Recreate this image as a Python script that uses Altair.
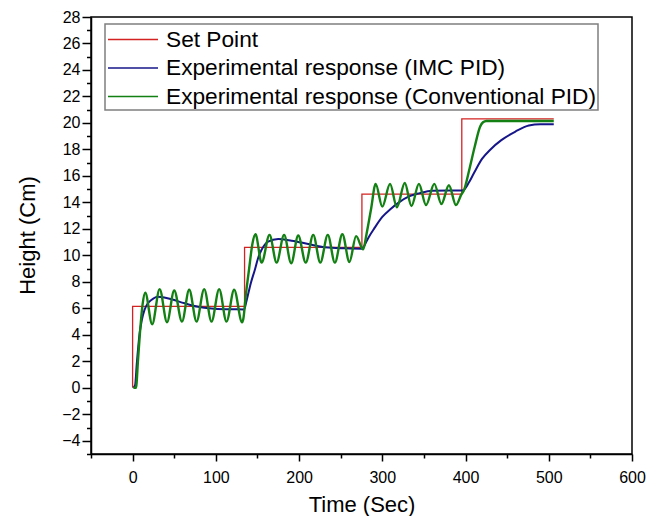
import altair as alt
import pandas as pd

# ---- data ----
series_names = ["Set Point",
                "Experimental response (IMC PID)",
                "Experimental response (Conventional PID)"]
colors = ["#d42222", "#16168a", "#138013"]

sp_t = [0, 0, 134.5, 134.5, 275.5, 275.5, 395.5, 395.5, 506]
sp_h = [0, 6.15, 6.15, 10.61, 10.61, 14.62, 14.62, 20.31, 20.31]

imc_t = [1, 3, 5, 8.4, 11, 14.4, 18, 22.5, 30, 38, 46.6, 62.6, 78.6, 94.7, 110, 134,
         137, 142, 146.8, 150.8, 154.8, 162.8, 174.9, 191, 211, 231, 255, 275,
         277, 283, 290, 300, 310, 320, 332, 345, 360, 380, 396,
         398, 404, 410, 420, 430, 443, 460, 476, 490, 506]
imc_h = [0, 0.2, 1.8, 4.1, 5.1, 5.9, 6.35, 6.63, 6.88, 6.82, 6.68, 6.38, 6.12, 5.98, 5.93, 5.92,
         6.6, 7.9, 8.9, 9.8, 10.4, 11.04, 11.24, 11.11, 10.86, 10.61, 10.53, 10.5,
         10.6, 11.3, 12.0, 12.9, 13.5, 14.0, 14.45, 14.7, 14.88, 14.9, 14.9,
         14.95, 15.5, 16.2, 17.3, 18.0, 18.7, 19.35, 19.8, 19.9, 19.9]

pid_t = [1, 4, 6.5, 9, 12, 15.2, 23.5, 32.5, 41.3, 50, 59.3, 68, 76.8, 86, 94.8, 104, 112.8,
         122, 131.5,
         133, 136, 140, 144, 147.6, 155, 164.5, 173, 182, 190.5, 199, 208, 217, 225.5,
         234.5, 243, 252, 260.5, 268.5, 277,
         281, 286.5, 292, 300, 309.3, 317.5, 327, 335, 344, 352.5, 362.5, 371, 380, 388.5,
         395, 398, 405, 411, 417.6, 421, 425, 506]
pid_h = [0, 0, 2.1, 4.3, 6.3, 7.18, 4.8, 7.45, 4.95, 7.35, 5.0, 7.4, 5.0, 7.45, 5.0, 7.45, 5.0,
         7.4, 4.95,
         5.2, 7.0, 9.0, 10.9, 11.6, 9.45, 11.55, 9.45, 11.55, 9.4, 11.5, 9.45, 11.55, 9.45,
         11.55, 9.45, 11.6, 9.5, 11.45, 10.45,
         11.6, 13.5, 15.4, 13.68, 15.4, 13.63, 15.46, 13.73, 15.4, 13.8, 15.4, 13.88, 15.3, 13.8,
         14.6, 14.9, 16.6, 18.2, 19.73, 20.05, 20.15, 20.15]

x_ticks = list(range(-50, 601, 50))
y_ticks = list(range(-5, 29, 1))

FONT = "Liberation Sans"

x_scale = alt.Scale(domain=[-50, 600], nice=False, zero=False)
y_scale = alt.Scale(domain=[-5, 28], nice=False, zero=False)

x_axis = alt.Axis(
    values=x_ticks,
    labelExpr="datum.value % 100 === 0 ? datum.label : ''",
    tickSize={"condition": {"test": "datum.value % 100 === 0", "value": 7}, "value": 4},
    labelPadding=8, labelFlush=False, labelOverlap=False,
    title="Time (Sec)", titleY=57, titleBaseline="alphabetic",
)
y_axis = alt.Axis(
    values=y_ticks,
    labelExpr="datum.value % 2 === 0 ? datum.label : ''",
    tickSize={"condition": {"test": "datum.value % 2 === 0", "value": 9}, "value": 4.5},
    labelPadding=2, labelFlush=False, labelOverlap=False,
    title="Height (Cm)", titleX=-64, titleY=218, titleBaseline="middle",
    titleAlign="center", titleAngle=-90,
)

def series_df(ts, hs, name):
    return pd.DataFrame({"t": ts, "h": hs, "series": name, "i": list(range(len(ts)))})

df_sp = series_df(sp_t, sp_h, series_names[0])
df_imc = series_df(imc_t, imc_h, series_names[1])
df_pid = series_df(pid_t, pid_h, series_names[2])

def line_layer(df, color, width, interp):
    return alt.Chart(df).mark_line(color=color, strokeWidth=width, interpolate=interp).encode(
        x=alt.X("t:Q", scale=x_scale, axis=x_axis),
        y=alt.Y("h:Q", scale=y_scale, axis=y_axis),
        order=alt.Order("i:Q"),
    )

layers = [
    line_layer(df_sp, colors[0], 1.3, "linear"),
    line_layer(df_imc, colors[1], 2.0, "monotone"),
    line_layer(df_pid, colors[2], 2.4, "monotone"),
]

# ---- legend drawn in the plot frame ----
one = pd.DataFrame({"k": [0]})
legend_box = alt.Chart(one).mark_rect(fill="white", stroke="#7f7f7f", strokeWidth=1.5).encode(
    x=alt.value(14), x2=alt.value(507), y=alt.value(7), y2=alt.value(93)
)
layers.append(legend_box)
row_y = [22.5, 51, 79.5]
for i, name in enumerate(series_names):
    d = pd.DataFrame({"name": [name]})
    layers.append(alt.Chart(d).mark_rule(color=colors[i], strokeWidth=1.5).encode(
        x=alt.value(17), x2=alt.value(67), y=alt.value(row_y[i])))
    layers.append(alt.Chart(d).mark_text(align="left", baseline="middle", fontSize=22.7,
                                         font=FONT, color="black").encode(
        x=alt.value(75), y=alt.value(row_y[i]), text="name:N"))

chart = alt.layer(*layers).properties(
    width=541, height=437,
    autosize=alt.AutoSizeParams(type="none"),
    padding={"left": 83, "top": 9, "right": 16, "bottom": 62},
).configure_view(
    stroke="black", strokeWidth=1.5
).configure_axis(
    grid=False, domainColor="black", domainWidth=1.5, tickColor="black", tickWidth=1.5,
    labelFont=FONT, labelFontSize=16, labelColor="black",
    titleFont=FONT, titleFontSize=22, titleFontWeight="normal", titleColor="black",
)

chart.save("out.html", embed_options={"renderer": "svg", "actions": False})
